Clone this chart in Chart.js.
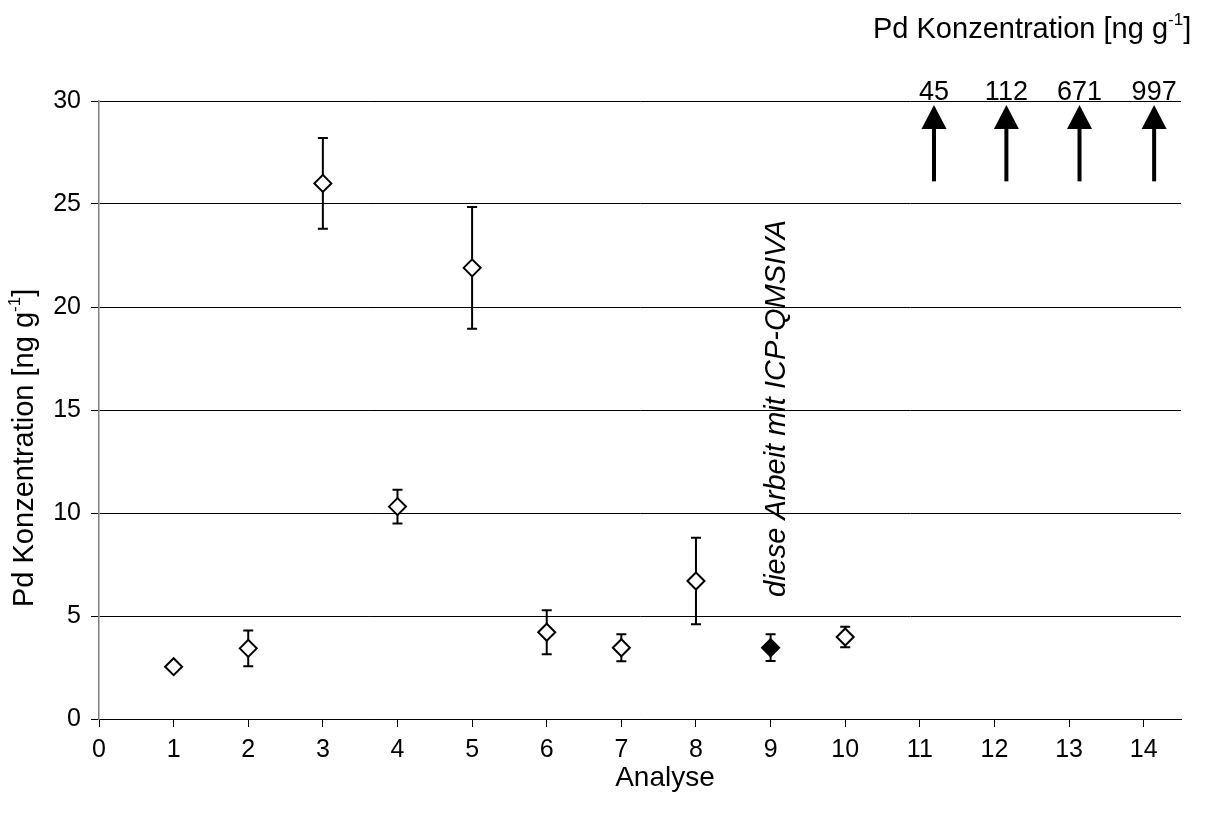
<!DOCTYPE html>
<html>
<head>
<meta charset="utf-8">
<script src="https://cdn.jsdelivr.net/npm/chart.js@4/dist/chart.umd.min.js"></script>
<style>
  html, body { margin: 0; padding: 0; background: #fff; }
  #wrap { width: 1206px; height: 831px; position: relative; }
</style>
</head>
<body>
<div id="wrap"><canvas id="c" width="1206" height="831"></canvas></div>
<script>
// Analyses and measured Pd concentrations (ng/g) with their standard deviations
const analyses = [1, 2, 3, 4, 5, 6, 7, 8, 9, 10];
const pdValues = [2.54, 3.43, 26.0, 10.31, 21.9, 4.21, 3.46, 6.70, 3.46, 3.98];
const pdErrors = [0, 0.87, 2.2, 0.82, 2.95, 1.07, 0.66, 2.1, 0.65, 0.5];
// analysis 9 is this work (ICP-QMS IVA), drawn filled
const ownWork = [false, false, false, false, false, false, false, false, true, false];

// Off-scale results, shown as arrows with their values
const offScaleX = [11.19, 12.16, 13.14, 14.14];
const offScaleLabels = ['45', '112', '671', '997'];
const arrowFrom = 26.1;
const arrowTo = 29.8;

const xTicks = [0, 1, 2, 3, 4, 5, 6, 7, 8, 9, 10, 11, 12, 13, 14];
const yTicks = [0, 5, 10, 15, 20, 25, 30];

const FONT = '"Liberation Sans", Arial, Helvetica, sans-serif';

const points = analyses.map((a, i) => ({ x: a, y: pdValues[i] }));

function drawWithSup(ctx, x, y, parts, size, supSize, supRise) {
  let cx = x;
  parts.forEach(p => {
    ctx.font = (p.sup ? supSize : size) + 'px ' + FONT;
    ctx.fillText(p.text, cx, p.sup ? y - supRise : y);
    cx += ctx.measureText(p.text).width;
  });
}

const unitParts = [
  { text: 'Pd Konzentration [ng g' },
  { text: '-1', sup: true },
  { text: ']' }
];

const errorBars = {
  id: 'errorBars',
  beforeDatasetsDraw(chart) {
    const { ctx, scales: { x, y } } = chart;
    ctx.save();
    ctx.strokeStyle = '#000';
    ctx.lineWidth = 2;
    analyses.forEach((a, i) => {
      const e = pdErrors[i];
      if (!e) return;
      const px = x.getPixelForValue(a);
      const top = y.getPixelForValue(pdValues[i] + e);
      const bot = y.getPixelForValue(pdValues[i] - e);
      ctx.beginPath();
      ctx.moveTo(px, top); ctx.lineTo(px, bot);
      ctx.moveTo(px - 5, top); ctx.lineTo(px + 5, top);
      ctx.moveTo(px - 5, bot); ctx.lineTo(px + 5, bot);
      ctx.stroke();
    });
    ctx.restore();
  }
};

const extras = {
  id: 'extras',
  afterDraw(chart) {
    const { ctx, scales: { x, y } } = chart;
    ctx.save();
    ctx.fillStyle = '#000';
    ctx.strokeStyle = '#000';

    // arrows for off-scale values
    offScaleX.forEach((v, i) => {
      const px = x.getPixelForValue(v);
      const tip = y.getPixelForValue(arrowTo);
      const base = y.getPixelForValue(arrowFrom);
      ctx.beginPath();
      ctx.moveTo(px, tip);
      ctx.lineTo(px + 12.5, tip + 24);
      ctx.lineTo(px - 12.5, tip + 24);
      ctx.closePath();
      ctx.fill();
      ctx.lineWidth = 4;
      ctx.beginPath();
      ctx.moveTo(px, tip + 20);
      ctx.lineTo(px, base);
      ctx.stroke();
      ctx.font = '27px ' + FONT;
      ctx.textAlign = 'center';
      ctx.textBaseline = 'alphabetic';
      ctx.fillText(offScaleLabels[i], px, tip - 5);
    });

    ctx.textAlign = 'left';
    ctx.textBaseline = 'alphabetic';

    // unit caption above the arrows
    drawWithSup(ctx, 873, 38, unitParts, 29, 17, 13);

    // y axis title
    ctx.save();
    ctx.translate(33, 607);
    ctx.rotate(-Math.PI / 2);
    drawWithSup(ctx, 0, 0, unitParts, 29, 17, 13);
    ctx.restore();

    // x axis title
    ctx.font = '28px ' + FONT;
    ctx.textAlign = 'center';
    ctx.fillText('Analyse', 665, 786);

    // note on analysis 9
    ctx.save();
    ctx.translate(785, 597);
    ctx.rotate(-Math.PI / 2);
    ctx.textAlign = 'left';
    ctx.font = 'italic 29px ' + FONT;
    ctx.fillText('diese Arbeit mit ICP-QMSIVA', 0, 0);
    ctx.restore();

    ctx.restore();
  }
};

new Chart(document.getElementById('c'), {
  type: 'scatter',
  data: {
    datasets: [{
      data: points,
      pointStyle: 'rectRot',
      pointRadius: 8.5,
      pointHoverRadius: 8.5,
      borderWidth: 2,
      borderColor: '#000',
      backgroundColor: ownWork.map(o => o ? '#000' : '#fff'),
      showLine: false
    }]
  },
  options: {
    responsive: false,
    animation: false,
    devicePixelRatio: 1,
    layout: { padding: { top: 101, right: 25, left: 0, bottom: 0 } },
    plugins: { legend: { display: false }, tooltip: { enabled: false } },
    scales: {
      x: {
        type: 'linear',
        min: 0,
        max: 14.5,
        afterFit(s) { s.height = 112; },
        afterBuildTicks(s) { s.ticks = xTicks.map(v => ({ value: v })); },
        ticks: { stepSize: 1, includeBounds: false, color: '#000', padding: 8, font: { size: 25, family: FONT } },
        grid: { drawOnChartArea: false, drawTicks: true, tickLength: 8, color: '#000', lineWidth: 1 },
        border: { color: '#000', width: 1 }
      },
      y: {
        type: 'linear',
        min: 0,
        max: 30,
        afterFit(s) { s.width = 99; },
        afterBuildTicks(s) { s.ticks = yTicks.map(v => ({ value: v })); },
        ticks: { stepSize: 5, color: '#000', padding: 10, font: { size: 25, family: FONT } },
        grid: { drawOnChartArea: true, drawTicks: true, tickLength: 8, color: '#000', lineWidth: 1 },
        border: { color: '#808080', width: 1.5 }
      }
    }
  },
  plugins: [errorBars, extras]
});
</script>
</body>
</html>
